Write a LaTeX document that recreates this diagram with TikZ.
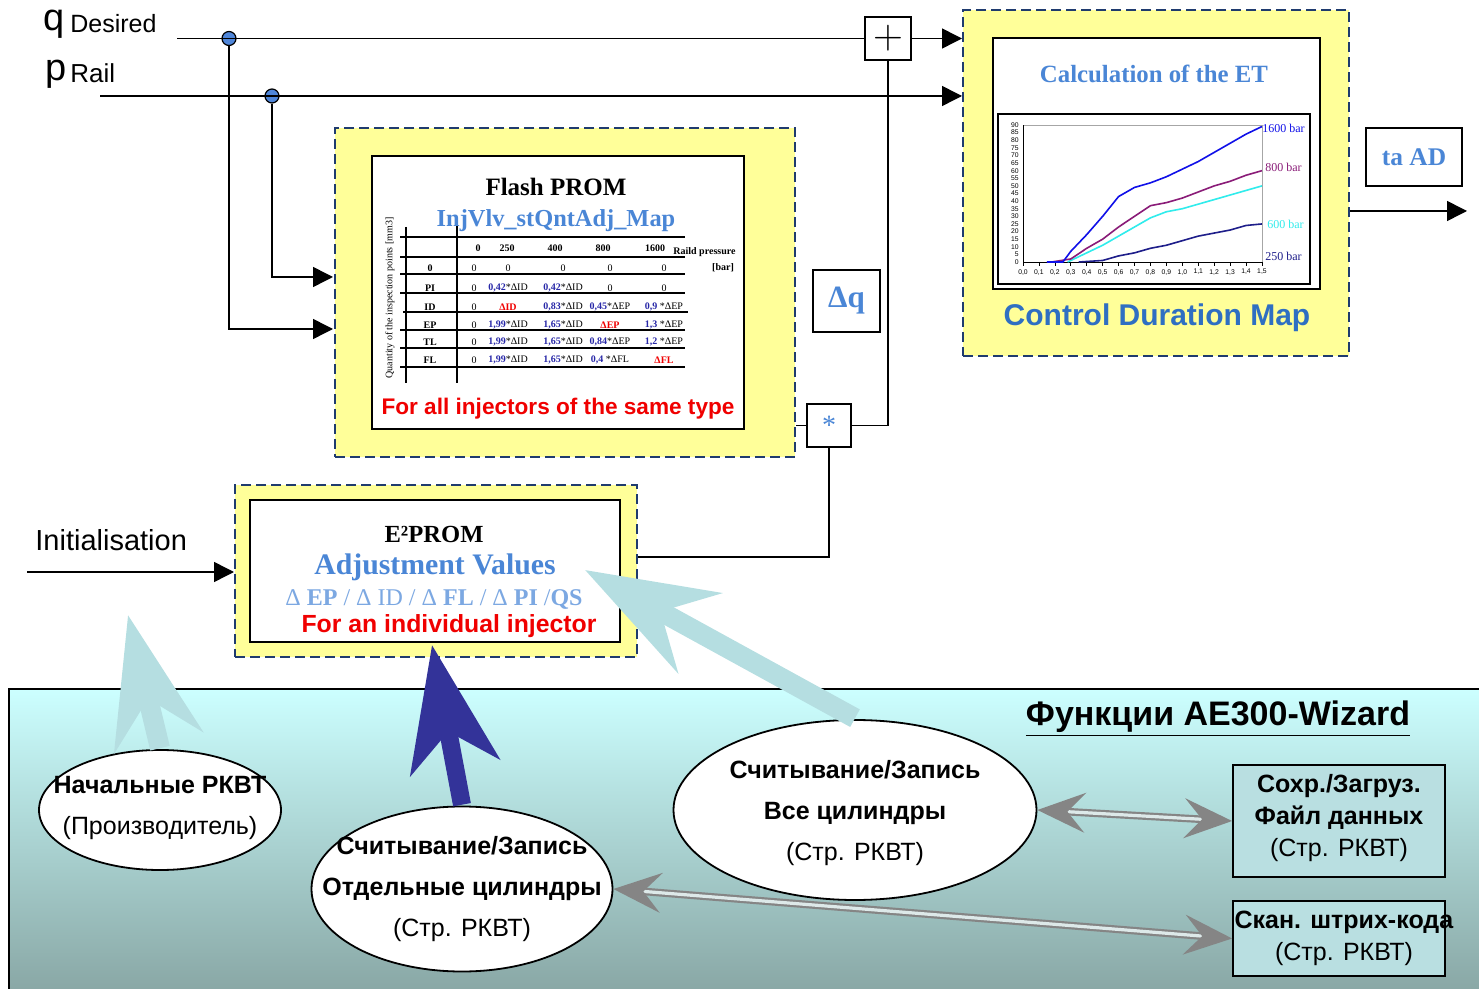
\documentclass[tikz,border=0pt]{standalone}
\usepackage{fontspec}
\setmainfont{Liberation Serif}
\setsansfont{Liberation Sans}
\usetikzlibrary{positioning, arrows.meta, calc, shapes.geometric}
\definecolor{memfill}{HTML}{FFFF99}
\definecolor{memline}{HTML}{1F3B6E}
\definecolor{mapblue}{HTML}{4A86D6}
\definecolor{cdmblue}{HTML}{2F6FC2}
\definecolor{deltablue}{HTML}{7CA8E2}
\definecolor{notered}{HTML}{F00000}
\definecolor{jointfill}{HTML}{4F86D9}
\definecolor{paneltop}{HTML}{CCFFFF}
\definecolor{panelbot}{HTML}{88A6A4}
\definecolor{boxfill}{HTML}{B9DFE1}
\definecolor{softarrow}{HTML}{B5DEE1}
\definecolor{deeparrow}{HTML}{333399}
\definecolor{duogray}{HTML}{858585}
\definecolor{duogap}{HTML}{DDE9E9}
\definecolor{cellblue}{HTML}{2828A8}
\definecolor{c1600}{HTML}{1010E8}
\definecolor{c800}{HTML}{8A1C78}
\definecolor{c600}{HTML}{30ECEC}
\definecolor{c250}{HTML}{1E1E8A}
\tikzset{
  memory/.style={draw=memline, fill=memfill, line width=1pt, dash pattern=on 5pt off 2.5pt, inner sep=0pt},
  sheet/.style={draw, fill=white, line width=1pt, inner sep=0pt},
  opbox/.style={draw, fill=white, line width=0.9pt, inner sep=0pt},
  joint/.style={circle, draw, fill=jointfill, line width=0.6pt, minimum size=7pt, inner sep=0pt},
  wire/.style={line width=0.75pt},
  arr/.style={-{Triangle[length=10pt, width=10pt]}, line width=0.75pt},
  duo/.style={{Stealth[length=24pt, width=20pt, inset=9pt]}-{Stealth[length=24pt, width=20pt, inset=9pt]},
    draw=duogray, double=duogap, double distance=1.6pt, line width=1.1pt},
  softblk/.style={-{Stealth[length=65pt, width=45pt, inset=22pt]}, draw=softarrow, line width=10pt},
  deepblk/.style={-{Stealth[length=62pt, width=45pt, inset=18pt]}, draw=deeparrow, line width=9pt},
  bubble/.style={ellipse, draw, fill=white, line width=0.9pt, inner sep=0pt},
  wizbox/.style={draw, fill=boxfill, line width=0.9pt, inner sep=0pt, minimum width=106pt},
  panel/.style={draw, top color=paneltop, bottom color=panelbot, line width=0.8pt, inner sep=0pt,
    minimum width=740.5pt, minimum height=153pt},
  % texts
  symfont/.style={font=\sffamily\fontsize{19}{20}\selectfont, inner sep=0pt, anchor=base west},
  sigfont/.style={font=\sffamily\fontsize{12.5}{14}\selectfont, inner sep=0pt, anchor=base west},
  serifhead/.style={font=\bfseries\fontsize{12.5}{14}\selectfont, inner sep=0pt},
  serifblue/.style={font=\bfseries\fontsize{12.2}{14}\selectfont, text=mapblue, inner sep=0pt},
  rednote/.style={font=\sffamily\bfseries\fontsize{11.3}{13}\selectfont, text=notered, inner sep=0pt},
  bubbletext/.style={font=\sffamily\fontsize{12.5}{20.5}\selectfont, align=center, inner sep=0pt},
  boxtext/.style={font=\sffamily\fontsize{12.5}{16}\selectfont, align=center, inner sep=0pt},
  tabcell/.style={font=\fontsize{5}{6}\selectfont, inner sep=0pt},
  tabhead/.style={font=\bfseries\fontsize{5}{6}\selectfont, inner sep=0pt},
  ticklbl/.style={font=\sffamily\fontsize{3.4}{4}\selectfont, inner sep=0.4pt},
  curvelbl/.style={font=\fontsize{6}{7}\selectfont, inner sep=0pt, anchor=west},
}
\newcommand{\dv}[2]{\textcolor{cellblue}{\textbf{#1}}#2}
\newcommand{\dr}[1]{\textcolor{notered}{\textbf{#1}}}
\newcommand{\tabrow}[8]{%
  \node[tabhead] (#1-l) at (430,#2) {#3};
  \node[tabcell] (#1-a) at (474,#2) {#4};
  \node[tabcell] (#1-b) at (508,#2) {#5};
  \node[tabcell] (#1-c) at (563,#2) {#6};
  \node[tabcell] (#1-d) at (610,#2) {#7};
  \node[tabcell] (#1-e) at (664,#2) {#8};
}

\begin{document}
\begin{tikzpicture}[x=0.5pt, y=-0.5pt]
\useasboundingbox (0,0) rectangle (1479,989);
\clip (0,0) rectangle (1479,989);

% Wizard panel
\node[panel] (panel) at (749.5,842) {};

% Memories
\node[memory, minimum width=230pt, minimum height=164.5pt] (flashouter) at (565,292.5) {};
\node[sheet, minimum width=186pt, minimum height=136.5pt] (flashinner) at (558,292.5) {};
\node[memory, minimum width=193pt, minimum height=173pt] (etouter) at (1156,183) {};
\node[sheet, minimum width=163.5pt, minimum height=125.5pt] (etinner) at (1156.5,163.5) {};
\node[sheet, minimum width=156pt, minimum height=85pt] (chart) at (1154,199) {};
\node[memory, minimum width=201pt, minimum height=86pt] (e2outer) at (436,571) {};
\node[sheet, minimum width=185pt, minimum height=71pt] (e2inner) at (435,571) {};

% Operators
\node[opbox, minimum width=23pt, minimum height=21.5pt] (plus) at (888,38.5) {\fontsize{20}{20}\selectfont$+$};
\node[opbox, minimum width=22pt, minimum height=21.5pt, font=\fontsize{14}{14}\selectfont, text=mapblue] (star) at (829,425.5) {*};
\node[opbox, minimum width=33.5pt, minimum height=31pt, font=\bfseries\fontsize{15.5}{16}\selectfont, text=mapblue] (dq) at (846.5,301) {Δq};
\node[opbox, minimum width=48pt, minimum height=29pt, font=\bfseries\fontsize{12.7}{14}\selectfont, text=mapblue] (taad) at (1414,157) {ta AD};

% Signals
\node[symfont] (qsym) at (43,31) {q};
\node[sigfont] (qname) at (70,33) {Desired};
\node[symfont] (psym) at (45,81) {p};
\node[sigfont, font=\sffamily\fontsize{13}{14}\selectfont] (pname) at (70,83) {Rail};
\node[sigfont, font=\sffamily\fontsize{14.5}{16}\selectfont] (init) at (35,551) {Initialisation};

\coordinate (qstart) at (177,38.5);
\coordinate (pstart) at (100,96);
\coordinate (qin) at (333,329);
\coordinate (pin) at (333,277);
\coordinate (tout) at (1467,211);
\coordinate (initstart) at (27,572);
\node[joint] (qj) at (229,38.5) {};
\node[joint] (pj) at (272,96) {};

\draw[arr] (qj.south) |- (qin);
\draw[arr] (pj.south) |- (pin);
\draw[wire] (qstart) -- (plus.west);
\draw[arr] (pstart) -- (pstart -| etouter.west);
\draw[arr] (plus.east) -- (plus.east -| etouter.west);
\draw[wire] (plus.south) |- (star.east);
\draw[wire] (star.west) -- (star.west -| flashouter.east);
\draw[wire] (star.south) |- ([yshift=7pt]e2outer.east);
\draw[arr] (initstart) -- (initstart -| e2outer.west);
\draw[arr] (etouter.east |- tout) -- (tout);

% Flash PROM
\node[serifhead] (flashtitle) at (556,187) {Flash PROM};
\node[serifblue] (mapname) at (556,221) {InjVlv\_stQntAdj\_Map};
\node[rednote] (flashnote) at (558,409) {For all injectors of the same type};
\foreach \ty in {237,257,274,293,330,348,367}
  \draw[line width=0.8pt] (400,\ty) -- (685,\ty);
\draw[line width=0.8pt] (403,312) -- (688,312);
\draw[line width=0.8pt] (406,227) -- (406,383);
\draw[line width=0.8pt] (457,226) -- (457,383);
\node[tabcell, rotate=90] (qaxis) at (390,298) {Quantity of the inspection points [mm3]};
\foreach \hx/\ht in {478/0, 507/250, 555/400, 603/800, 655/1600}
  \node[tabhead] (h\ht) at (\hx,252) {\ht};
\node[tabhead, anchor=west] (hunit) at (673,252) {Raild pressure};
\node[tabhead] (hbar) at (723,268) {[bar]};
\tabrow{r0}{268}{0}{0}{0}{0}{0}{0}
\tabrow{rpi}{288}{PI}{0}{\dv{0,42}{*ΔID}}{\dv{0,42}{*ΔID}}{0}{0}
\tabrow{rid}{307}{ID}{0}{\dr{ΔID}}{\dv{0,83}{*ΔID}}{\dv{0,45}{*ΔEP}}{\dv{0,9}{ *ΔEP}}
\tabrow{rep}{325}{EP}{0}{\dv{1,99}{*ΔID}}{\dv{1,65}{*ΔID}}{\dr{ΔEP}}{\dv{1,3}{ *ΔEP}}
\tabrow{rtl}{342}{TL}{0}{\dv{1,99}{*ΔID}}{\dv{1,65}{*ΔID}}{\dv{0,84}{*ΔEP}}{\dv{1,2}{ *ΔEP}}
\tabrow{rfl}{360}{FL}{0}{\dv{1,99}{*ΔID}}{\dv{1,65}{*ΔID}}{\dv{0,4}{ *ΔFL}}{\dr{ΔFL}}

% Calculation of the ET
\node[serifblue, font=\bfseries\fontsize{12.4}{14}\selectfont] (ettitle) at (1154,74) {Calculation of the ET};
\node[font=\sffamily\bfseries\fontsize{15}{17}\selectfont, text=cdmblue, inner sep=0pt] (cdm) at (1157,318) {Control Duration Map};
\begin{scope}[shift={(1023,262)}, x=79.65pt, y=0.761pt]
  \draw[gray!70, line width=0.4pt] (0,0) rectangle (1.5,90);
  \draw[line width=0.4pt] (0,90) -- (0,0) -- (1.5,0);
  \foreach \v in {0,5,...,90}
    \node[ticklbl, anchor=east] (yt\v) at (-0.02,\v) {\v};
  \foreach \i in {0,...,15} {
    \pgfmathtruncatemacro\ia{\i/10}
    \pgfmathtruncatemacro\ib{\i-10*\ia}
    \draw[line width=0.3pt] (\i/10,0) -- ++(0,-2.5);
    \node[ticklbl, anchor=north] (xt\i) at (\i/10,-4) {\ia,\ib};
  }
  \draw[c250, line width=0.8pt] plot coordinates {(0.35,0) (0.5,1) (0.6,4) (0.7,6) (0.8,9) (0.9,11) (1.0,14) (1.1,17) (1.2,19) (1.3,21) (1.4,24) (1.5,25)};
  \draw[c600, line width=0.8pt] plot coordinates {(0.28,0) (0.3,1) (0.4,6) (0.5,11) (0.6,17) (0.7,23) (0.8,29) (0.9,33) (1.0,35) (1.1,38) (1.2,41) (1.3,44) (1.4,47) (1.5,50)};
  \draw[c800, line width=0.8pt] plot coordinates {(0.18,0) (0.3,2) (0.4,9) (0.5,15) (0.6,23) (0.7,30) (0.8,37) (0.9,39) (1.0,42) (1.1,46) (1.2,50) (1.3,53) (1.4,57) (1.5,60)};
  \draw[c1600, line width=0.8pt] plot coordinates {(0.15,0) (0.25,0) (0.3,7) (0.4,18) (0.5,30) (0.6,43) (0.7,49) (0.8,52) (0.9,56) (1.0,61) (1.1,66) (1.2,72) (1.3,78) (1.4,84) (1.5,89)};
\end{scope}
\node[curvelbl, text=c1600] (l1600) at (1262,128) {1600 bar};
\node[curvelbl, text=c800] (l800) at (1265,167) {800 bar};
\node[curvelbl, text=c600] (l600) at (1267,224) {600 bar};
\node[curvelbl, text=c250] (l250) at (1265,256) {250 bar};

% E2PROM
\node[serifhead, font=\bfseries\fontsize{12.3}{14}\selectfont] (e2title) at (434,534) {E²PROM};
\node[serifblue, font=\bfseries\fontsize{14.9}{16}\selectfont] (adjname) at (435,567) {Adjustment Values};
\node[font=\fontsize{12}{14}\selectfont, text=deltablue, inner sep=0pt] (deltas) at (434,600)
  {Δ \textbf{EP} / Δ ID / Δ \textbf{FL} / Δ \textbf{PI} /\textbf{QS}};
\node[rednote, font=\sffamily\bfseries\fontsize{12.4}{14}\selectfont] (e2note) at (449,626) {For an individual injector};

% AE300-Wizard functions
\node[font=\sffamily\bfseries\fontsize{17}{19}\selectfont, inner sep=0pt] (wiztitle) at (1218,719) {\underline{Функции AE300-Wizard}};
\coordinate (e1tip) at (128,615);
\coordinate (e2tip) at (432,645);
\coordinate (e3tip) at (585,570);
\node[bubble, minimum width=121pt, minimum height=60pt] (e1) at (160,810) {};
\node[bubble, minimum width=150.5pt, minimum height=82.5pt] (e2) at (462,889) {};
\node[bubble, minimum width=181.5pt, minimum height=90pt] (e3) at (855,810) {};
\draw[softblk] ([yshift=0.45pt]e1.north) -- (e1tip);
\draw[deepblk] ([yshift=0.45pt]e2.north) -- (e2tip);
\draw[softblk] ([yshift=0.45pt]e3.north) -- (e3tip);
\node[bubbletext] (e1txt) at (160,808) {\textbf{Начальные РКВТ}\\(Производитель)};
\node[bubbletext] (e2txt) at (462,889) {\textbf{Считывание/Запись}\\\textbf{Отдельные цилиндры}\\(Стр. РКВТ)};
\node[bubbletext] (e3txt) at (855,813) {\textbf{Считывание/Запись}\\\textbf{Все цилиндры}\\(Стр. РКВТ)};
\node[wizbox, minimum height=56pt] (b1) at (1339,821) {};
\node[boxtext] (b1txt) at (1339,818) {\textbf{Сохр./Загруз.}\\\textbf{Файл данных}\\(Стр. РКВТ)};
\node[wizbox, minimum height=37.5pt] (b2) at (1339,938.5) {};
\node[boxtext] (b2txt) at (1344,938) {\textbf{Скан. штрих-кода}\\(Стр. РКВТ)};
\draw[duo] (e3.east) -- (b1.west);
\draw[duo] (e2.east) -- (b2.west);

\end{tikzpicture}
\end{document}
